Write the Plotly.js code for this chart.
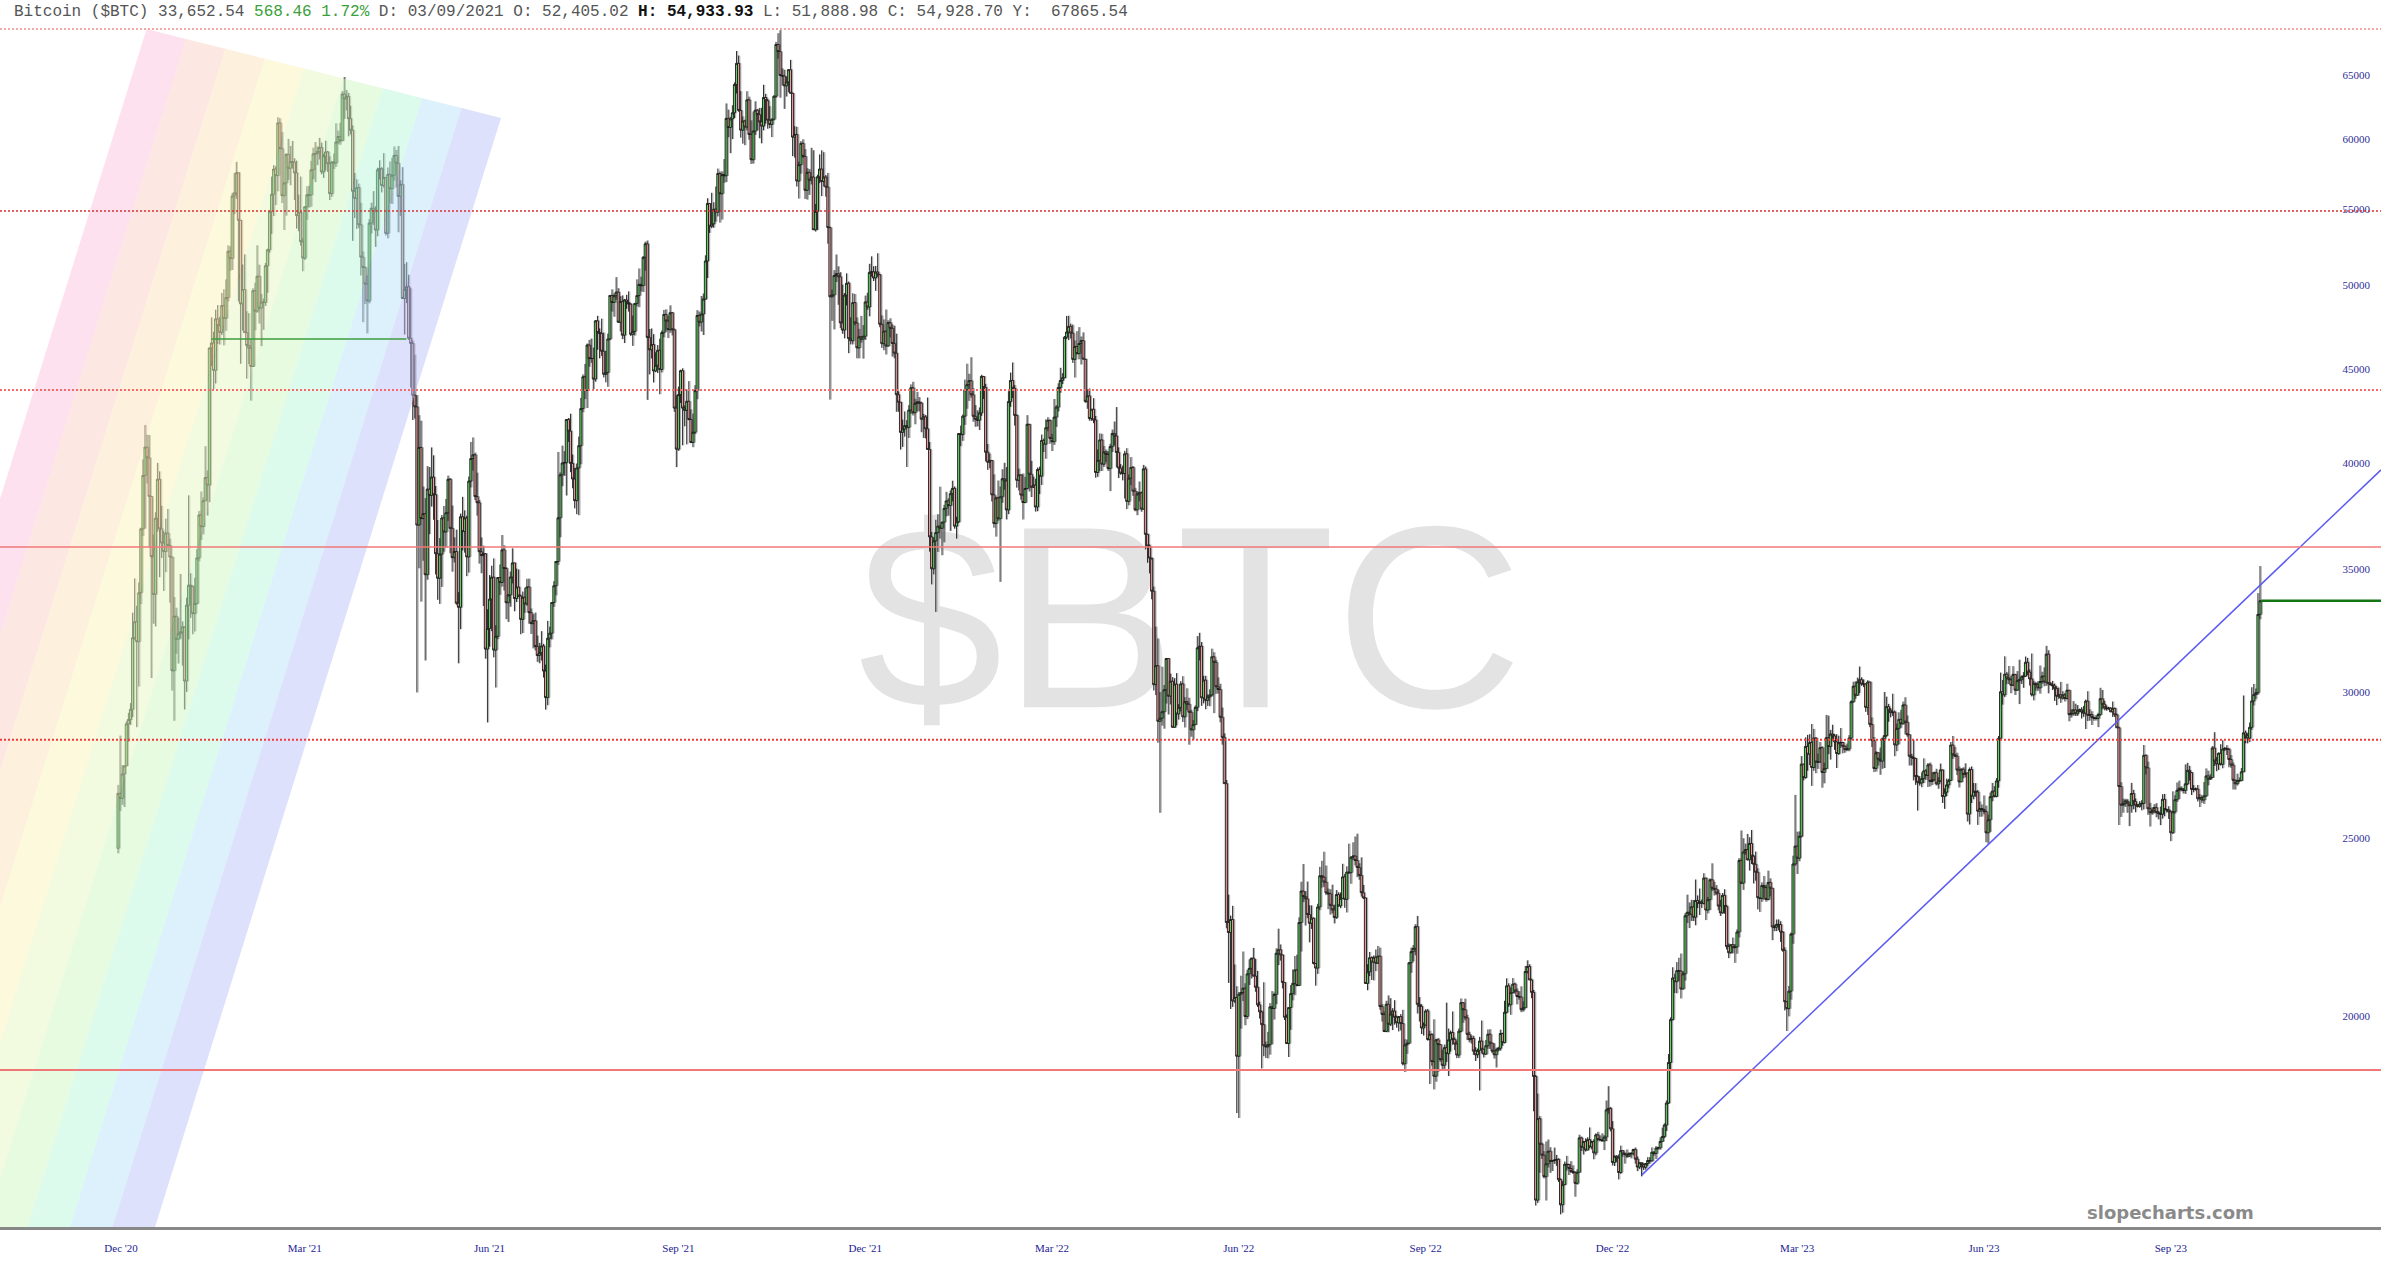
<!DOCTYPE html>
<html><head><meta charset="utf-8">
<script src="https://cdn.plot.ly/plotly-3.0.1.min.js"></script>
<style>html,body{margin:0;padding:0;background:#fff;overflow:hidden}#chart{width:2381px;height:1269px}</style>
</head><body><div id="chart"></div>
<script>
// ---------- DATA (daily BTC candles) ----------
const startDay = '2020-12-26';
const lastDay = '2023-10-24';
const firstOpen = 24678; // open of the first candle; later opens = previous close (24/7 market)
const closes = [
26437,26273,27084,27362,28841,29002,
29374,32127,32782,31971,33992,36824,39371,40797,40254,38356,35566,33923,37316,39187,36825,36178,35792,36630,36070,35548,30826,33006,32068,32290,32367,32569,30433,33467,34317,34269,33115,
33538,35510,37473,36927,38144,39266,38904,46196,46481,44919,47910,47505,47106,48717,47945,49200,52149,51679,55888,56100,57540,54207,48824,49705,47093,46340,46188,45137,
49631,48378,50538,48561,48927,48912,51206,52246,54824,56008,57805,57332,61243,59302,55907,56804,58870,57858,58346,58313,57523,54529,54738,52774,51704,55137,55974,55947,57750,58918,58918,
59095,59384,57604,58760,59057,58192,56048,58323,58245,59794,60205,59894,63503,63110,63314,61572,60684,56216,55724,56473,53906,51763,51093,50050,49004,54021,55033,54824,53555,57750,
57828,56631,57200,53333,57424,56396,57356,58803,58232,55859,56704,49150,49716,49880,46760,46456,43537,42909,37002,40782,37304,37536,34770,38705,38402,39294,38436,35697,34616,35678,37332,
36684,37575,39187,36851,35521,35796,33552,33380,37389,36702,37334,35552,39097,40218,40406,38347,38053,35787,35615,35698,31676,32506,33723,34662,31637,32187,34649,34434,35867,35040,
33572,33897,34668,35287,33747,34235,33855,32877,33798,33520,34240,33155,32702,32822,31780,31421,31533,31797,30817,29807,32110,32313,33581,34292,35350,37337,39406,39995,40008,42235,41626,
39974,39201,38152,39747,40869,42816,44555,43798,46365,45585,45593,44428,47793,47096,47047,46004,44695,44801,46717,49339,48905,49321,49546,47706,48960,46942,49058,48897,48807,46991,47167,
48847,49327,50026,49944,51753,52633,46811,46091,46391,44883,45201,46063,44963,47092,48176,47783,47268,48278,47260,42844,40694,43575,44896,42840,42717,43208,42235,41034,41564,43790,
48117,47711,48199,49112,51514,55361,53805,53967,54968,54771,57484,56041,57401,57322,61593,60892,61553,62026,64262,65993,62210,60693,61393,60931,63040,60364,58483,60622,62228,61889,61319,
61005,63227,62971,61453,61126,61528,63327,67566,66972,64995,64950,64155,64470,65467,63557,60162,60369,56943,58120,59697,58731,56289,57570,57006,57230,53569,54816,57249,57806,56908,
57230,56509,53714,49253,49369,50582,50701,50505,47672,47243,49362,50098,46737,46613,48896,47666,46203,46849,46708,46880,48936,48629,50784,50823,50429,50809,50640,47588,46444,47178,46306,
47686,47345,46458,45897,43569,43160,41558,41734,41912,41821,42736,43949,42592,43099,43177,43113,42250,42375,41744,40681,36457,35030,36276,36654,36954,36852,37138,37784,38138,37917,38483,
38743,36952,37154,41500,41441,42412,43841,44118,44338,43565,42407,42244,42197,42586,44575,43961,40538,40031,40122,38431,37075,38286,37296,38332,39214,39105,37709,43193,
44354,43924,42452,39137,39400,38419,38062,38737,41983,39437,38795,38904,37849,39666,39338,41143,40951,41801,42190,41247,41078,42358,42892,43960,44348,44500,46820,47128,47465,47062,45538,
46281,45868,46453,46622,45555,43206,43503,42287,42782,42207,39521,40127,41166,39936,40553,40424,39716,40826,41503,41374,40527,39740,39486,39470,40458,38117,39241,39773,38610,37714,
38469,38529,37750,39698,36575,36040,35501,34059,30296,31022,28936,29047,29283,30101,31305,29862,30425,28720,30314,29201,29445,30324,29098,29655,29562,29267,28627,28814,29445,31726,31792,
29799,30467,29704,29832,29906,31370,31155,30215,30112,29083,28360,26762,22487,22206,22572,20381,20471,19017,20553,20599,20710,19988,21085,21231,21502,21028,20735,20281,20105,19785,
19269,19243,19297,20231,20190,20548,21637,21732,21592,20860,19970,19323,20213,20570,20836,21190,20779,22485,23389,23231,23164,22714,22465,22609,21361,21239,22930,23843,23804,23656,23337,
23314,22978,22846,22630,23289,22961,23175,23810,23149,23954,23934,24403,24441,24305,24094,23854,23342,23191,20834,21140,21516,21400,21529,21368,21560,20240,20041,19617,20297,19796,20049,
20127,19969,19832,19986,19813,18837,19290,19329,21381,21681,21769,22371,20296,20242,19702,19773,20127,19420,19545,18891,18547,19413,19297,18937,18803,19223,19079,19412,19592,19423,
19311,19045,19623,20337,20160,19955,19546,19417,19446,19141,19052,19157,19382,19185,19067,19268,19550,19334,19139,19053,19172,19208,19567,19345,20095,20771,20285,20595,20818,20635,20495,
20485,20159,20209,21147,21282,20926,20602,18541,15880,17587,17034,16800,16353,16618,16884,16669,16688,16697,16712,16292,15787,16190,16611,16604,16522,16459,16444,16217,16444,17168,
16968,17089,16908,17130,16975,17089,16848,17233,17134,17128,17105,17184,17781,17815,17364,16648,16777,16739,16438,16896,16824,16821,16778,16837,16832,16919,16717,16552,16642,16603,16547,
16625,16688,16680,16863,16836,16951,16955,17091,17197,17446,17934,18869,19909,20976,20880,21169,21161,20688,21086,22676,22777,22720,22934,22636,23117,23032,23078,23031,23774,22840,23139,
23723,23471,23449,23331,22955,22760,23264,22940,21819,21651,21870,21788,21808,22220,24307,23623,24565,24641,24327,24829,24436,24188,23947,23198,23175,23555,23492,23147,
23646,23475,22362,22354,22435,22429,22219,21718,20363,20187,20633,22163,24197,24746,24375,25052,27424,26965,28038,27767,28175,27308,28333,27493,27494,27994,27139,27268,28348,28033,28478,
28411,28199,27790,28168,28177,28044,27925,27947,28333,29653,30235,29896,30399,30485,30318,30315,29445,30397,28823,28245,27276,27817,27591,27525,28307,28422,29473,29340,29248,29268,
28091,28680,29006,28847,29534,28904,28454,27695,27654,27621,27000,26804,26784,26930,27192,27036,27398,26833,26890,27129,26753,26851,27226,26334,26476,26719,26868,28085,27745,27702,27219,
26819,27249,27075,27119,25760,27238,26346,26508,26480,25851,25940,25903,25841,25162,25575,26327,26511,26336,26851,28327,30027,29912,30695,30548,30480,30271,30688,30086,30445,30477,
30590,30620,31156,30777,30514,29909,30346,30292,30172,30414,30620,30392,31476,30335,30295,30249,30145,29856,29913,29792,29908,29771,30084,29176,29227,29354,29210,29319,29357,29275,29230,
29675,29151,29178,29074,29042,29041,29180,29765,29561,29429,29397,29415,29282,29408,29170,28701,26664,26049,26096,26189,26124,26031,26432,26163,26047,26008,26089,26106,27727,27297,25931,
25800,25869,25969,25813,25779,25753,26240,25906,25895,25832,25162,25834,26228,26539,26608,26568,26535,26754,27211,27133,26568,26580,26579,26256,26298,26217,26352,27021,26911,26967,
27983,27530,27429,27799,27416,27947,27968,27936,27584,27392,26874,26757,26862,26861,27159,28519,28415,28328,28719,29683,29919,29993,33084,33652.54
];
const highs = [
26718,28422,27390,27370,28937,29244,
29600,33155,34608,33440,34437,36879,40180,41946,41436,41420,38346,36568,37600,40000,39577,37901,36722,37299,37755,36378,35552,33811,33360,32944,34802,32794,32557,33784,38406,34834,34288,
34638,35896,37662,38592,38310,40846,39621,46203,48003,47145,48463,48745,48047,49487,49720,50341,52533,52474,56113,57505,58330,57533,54204,51290,51948,48370,48253,46716,
49784,50127,52535,51275,49432,49147,51384,52314,54824,57258,58082,58012,61683,61597,60541,56833,58970,60031,59498,59878,58592,58421,55985,57262,53009,55137,56568,56610,58405,59374,59800,
59469,60110,59755,58913,59891,59121,58732,58371,58937,61217,60659,61253,63735,64864,63822,63595,62572,61057,57521,57064,56757,55410,52131,51167,50591,54288,55416,56227,55173,57900,
58448,57942,58963,57214,57919,58360,58625,59464,59210,59500,57000,57939,51330,51438,50639,49783,46623,45800,43546,42462,42172,38829,38271,39835,39791,40782,40379,38856,37234,36400,37469,
37896,38231,39367,39242,37917,36436,36790,34017,37537,38334,37690,37439,39322,41064,41295,40516,39513,38187,36433,36058,35721,33298,34753,35164,35487,32637,34656,35219,36542,36074,
35100,33939,34909,35937,35284,35038,35000,33917,34042,34209,34593,34600,33330,33093,33159,32218,31924,32395,31885,31063,32816,32576,33581,34490,35364,40551,39526,40873,40593,42236,42317,
42541,40419,39750,39968,41341,43392,44689,45282,46456,46665,46743,46218,47829,48094,47339,47922,47097,46032,47033,49342,49717,49469,50482,49787,49288,49342,49122,49379,49589,48848,48110,
48861,50343,51033,50517,51840,52781,52853,47303,47337,47002,45950,46361,46736,47218,48450,48487,48091,48730,48331,47328,43540,44010,44954,45033,42987,43866,44313,42775,42545,44092,
48437,48354,49300,49457,51883,55727,55400,56113,55450,56550,57839,57627,57639,58532,62757,62275,61720,62614,64434,67016,66639,63732,61748,61490,63729,63293,61442,62128,62927,62330,62406,
62419,64242,63516,63123,62541,61590,63400,67789,68530,68790,65579,65461,64915,65495,66281,63617,60996,60949,58351,59859,60004,59266,57875,57803,59367,59183,55329,57393,58872,59176,
59041,57376,57526,53779,49699,50929,51934,51171,50797,50015,49485,50724,50205,48004,49473,49425,47995,47313,48089,47537,49329,49506,51332,51814,51176,51196,52016,50679,48119,47879,48472,
47827,47945,47570,47506,47031,43749,43153,42228,42663,42199,43001,44135,44278,43346,43724,43436,43179,42534,42478,43413,41060,36688,36433,37247,37510,38825,37148,37952,38576,38266,38647,
39115,38834,37387,41527,41913,42500,44401,45293,44727,45661,43921,43000,42722,42876,44667,44543,44164,40959,40467,40135,39431,38346,39126,38835,39683,40005,39788,43760,
44793,45365,44102,42506,39713,39430,39474,39305,42465,41939,40102,39317,39214,39767,39810,41446,41238,42243,42355,42226,41477,43333,43000,44198,45061,44756,46894,48087,48097,47626,47564,
46634,47179,47417,46865,47106,45508,43860,43906,42786,43378,42420,40679,41505,41482,40856,40677,40590,40968,41705,42127,42898,40786,39938,39861,40606,40742,39429,40292,39844,38766,
38603,39076,38592,39899,39820,36600,36113,35436,34257,32578,32098,30017,30983,30284,31308,31286,30718,30581,30542,30735,29565,30426,30617,29826,30157,29803,29355,28978,29516,32195,32329,
31957,30633,30633,29930,30117,31693,31551,31253,30573,30330,29437,28502,26883,23284,22681,22962,21334,20760,20610,21036,21684,20839,21192,21472,21520,21783,21479,21164,20364,20141,
20865,19371,19607,20326,20635,20595,21771,22314,21877,21599,20856,20043,20223,20792,21200,21561,21600,22633,23666,24196,23388,23671,22980,22974,22631,21362,23021,24110,24294,24572,24150,
23464,23442,23578,22993,23420,23355,23348,24203,23898,24127,24822,24434,24864,25047,25135,24219,24400,23570,23203,21341,21671,21552,21579,21739,21836,21788,20308,20117,20386,20523,20453,
20198,20401,20011,19999,20050,20156,19427,19417,21400,21791,21860,22439,22673,20480,20294,19842,20172,20180,19636,19575,19918,19439,19461,19311,19174,19298,20338,19688,19636,20115,
19471,19395,19690,20445,20343,20440,20033,19610,19520,19511,19232,19201,19485,19888,19196,19408,19666,19672,19339,19327,19225,19244,19662,19587,20386,20968,20839,20728,20975,20855,20704,
20632,20757,20371,21295,21446,21344,20959,20664,18575,18148,17645,17066,16886,17091,17134,16968,16701,16960,16805,16736,16320,16261,16667,16785,16620,16675,16588,16461,16507,17236,
17197,17089,17158,17181,17394,17107,17140,17267,17300,17217,17266,17227,17991,18318,17847,17531,16796,16800,16815,17001,16900,16859,16920,16859,16864,16937,16963,16772,16651,16643,16630,
16631,16759,16760,16965,16884,16991,16975,17177,17389,17484,17991,19070,19964,21260,21090,21398,21515,21630,21155,22752,23285,23059,23135,23129,23731,23262,23465,23144,23919,23779,23218,
23765,24218,23665,23565,23433,23133,23334,23442,22990,21904,21875,22067,21887,22293,24376,25235,24991,24825,25125,25022,25250,24478,24577,24067,23205,23647,23839,23577,
23997,23767,23475,22420,22572,22574,22524,22249,21799,20370,20770,22208,24450,26386,25197,25208,27699,27434,28357,28447,28470,28838,28661,28367,27785,28192,28043,27474,29166,29141,28626,
28810,28479,28470,28416,28694,28200,28079,28139,28439,29704,30406,30421,30564,30991,30574,30490,30350,30464,30397,29077,28371,27871,27821,28000,28353,30018,29842,29574,29419,29953,
29331,28854,29262,29353,29659,29821,29148,28441,27778,28270,27630,27049,27009,27142,27621,27257,27462,27478,27155,27170,27262,26981,27442,27216,26602,26930,26923,28194,28408,28017,27818,
27338,27283,27316,27450,27130,27309,27345,26782,26776,26549,26165,26069,26366,26034,25738,26465,26786,26677,26949,28409,30756,30474,31389,30782,31012,30634,31006,30690,30816,31256,
30650,30776,31381,31326,30882,31500,30440,30380,30427,31029,30790,30959,31804,31630,30390,30437,30336,30233,30184,30400,30046,29983,30330,30084,29375,29675,29580,29530,29400,29448,29500,
29732,30047,29375,29302,29102,29160,29244,30176,30093,29688,29517,29465,29448,29660,29439,29221,28745,26808,26260,26261,26254,26131,26786,26554,26269,26087,26182,26213,28089,27760,27508,
26126,25982,26082,26114,25859,26003,26409,26418,25939,26014,25880,26504,26376,26800,26864,26672,26615,27414,27468,27364,27152,26712,26630,26717,26412,26379,26812,27276,27198,27079,
28053,28542,27664,27826,28114,28252,28019,28081,27989,27735,27476,26900,27096,26967,27289,29886,28603,28500,28891,30196,30323,30150,33977,35150
];
const lows = [
24522,25856,26057,25987,27361,28202,
28803,29091,32052,28722,30221,33514,36491,36838,38980,35984,30549,32697,32584,36700,34659,35507,34069,34883,36069,33570,30071,28953,31493,31106,32087,31030,29367,30023,32064,32940,32270,
32384,33489,35360,36317,36570,38138,37446,38076,45166,43881,44187,46424,46392,46950,46347,47201,48968,50888,50937,54626,55673,48967,45290,47213,47093,44454,45269,43241,
45116,47229,48274,47625,46300,47257,48700,49506,52059,53290,54502,55254,56217,59302,55393,53555,54528,57024,56643,57851,55604,53650,53470,52514,50856,51579,54242,55071,55139,57069,56870,
58089,58506,57428,57168,57694,57593,55604,55830,57807,57965,59627,59589,59860,61554,62208,60223,60362,52829,54368,53621,53695,50583,47714,48805,47045,48852,53319,53887,52432,53129,
57052,56141,56478,53191,52996,55382,55321,56975,56482,53400,54500,49150,46980,48868,46665,43963,42207,42294,30000,35050,33616,35383,31227,34551,36581,37868,37247,34779,33693,33520,34241,
35787,35967,37193,35717,34900,35304,33480,31115,32475,35847,35744,34707,34864,38787,39609,38176,37439,35256,34834,33433,31295,28893,31772,32396,31350,30185,32071,33902,34252,34086,
32883,32770,33402,34396,33213,33599,33816,32270,32319,33151,33446,32697,32283,31704,31621,31174,31118,31223,30563,29360,29524,31745,32057,33401,33881,35205,36441,38848,39352,38397,41064,
39540,38746,37782,37508,37458,39932,42618,43331,42848,45118,45342,43861,44282,46090,45598,45741,44521,44248,43997,46650,48345,48038,49074,47680,47163,46707,46481,48519,48349,46889,46315,
46919,48669,48616,49588,49547,50888,43285,44688,45591,44237,44815,44766,43591,44797,46813,47141,46771,47085,46928,42644,39787,40605,43117,40891,41877,40936,42190,41000,40794,41466,
43321,47456,47160,46950,49073,50429,53358,53675,53705,54120,54474,54052,54260,56818,56868,60156,58964,60013,61623,63544,62105,60122,59678,59557,60678,59970,58173,58206,60329,60675,60074,
59695,60673,61184,60799,60845,60163,61432,63200,66383,63208,64180,62333,63303,63647,63548,58746,58638,56550,55705,57469,58618,55679,55632,55964,56700,53569,53450,53548,56792,55875,
56553,55837,52639,43300,47792,47281,50175,48765,47358,47024,46752,48725,45894,46402,46400,47529,45598,45598,46502,45579,46667,48458,48065,50514,50236,49623,50499,47414,46201,46060,45819,
46288,46806,45697,45602,42646,42646,40672,40810,41338,39796,41267,42528,42447,41982,42669,42663,41566,41268,41242,40672,35791,34349,34785,33184,35779,36375,35629,36211,37406,37437,36733,
38113,36832,36375,37093,40843,41117,41950,42807,43232,43402,42114,41852,41867,41681,42427,43334,40073,39651,39733,38112,36881,36470,37201,34459,38048,38675,37262,37510,
42909,43385,41914,38777,38636,38197,37260,38026,38695,38592,38324,38768,37630,37649,38463,38911,40549,40206,41621,40969,40597,40913,41844,42662,43677,44152,44473,46712,46650,46746,45339,
44512,45820,45544,45248,45537,43121,42806,42167,42166,42039,39262,39308,39597,39594,39795,40038,39595,38610,40546,40882,39776,39247,39411,39134,38252,37749,37931,38898,38380,37647,
37462,38121,37626,37721,35889,35294,34826,33716,30075,29902,28170,25800,28778,28666,29586,29183,29553,28700,28694,28783,28997,29296,28912,28712,29346,28099,28380,28277,28804,29307,31230,
29501,29594,29375,29500,29485,29850,29233,29945,29963,28900,28099,26760,22323,20847,20178,20232,20333,17709,17601,19686,20378,19770,19922,20792,20964,21016,20618,20229,19937,18729,
19019,18976,18966,19055,19304,19911,20296,21318,21438,20705,19900,19308,18999,19656,20397,20527,20760,20781,21683,23066,22401,22608,21934,22306,21336,20776,21084,22837,23491,23515,23272,
22865,22710,22744,22461,22589,22937,22893,23165,22904,22771,23900,23604,24319,24153,23801,23722,23229,23158,20819,20656,21028,20923,20913,21158,21349,20158,19862,19601,19599,19597,19750,
19652,19786,19710,19618,19647,18800,18644,19074,19321,21113,21418,21581,20062,19862,19554,19517,19759,19393,18367,18793,18243,18420,18652,18886,18680,18720,18881,18553,19130,19291,
19162,18972,18974,19596,19829,19890,19406,19350,19320,19050,18904,18972,18219,19081,18987,19062,19195,19192,19092,18962,18751,19133,19152,19267,19327,20064,20233,20030,20573,20568,20295,
20412,20097,20112,20207,21096,20922,20453,17749,15772,15826,16434,16721,16317,15872,16541,16433,16470,16617,16575,16246,15599,15632,16181,16475,16387,16428,16408,15948,16190,16439,
16888,16813,16877,16906,16946,16921,16714,16797,17095,17092,17094,16908,17097,17693,17309,16584,16573,16658,16297,16413,16764,16622,16739,16760,16733,16792,16623,16467,16508,16360,16490,
16499,16573,16623,16667,16786,16720,16914,16916,17087,17164,17315,17913,18716,19891,20585,20578,20895,20445,20686,20908,22473,22330,22531,22527,22408,22894,22698,22901,23000,22555,22744,
22838,23390,23261,23273,22835,22670,22739,22738,21738,21505,21626,21633,21377,21625,22069,23596,23424,24478,24302,23998,24197,23614,23696,22860,22787,23079,23132,23080,
23118,23238,21994,22243,22245,22268,21947,21678,20141,19628,19992,20414,21895,24144,23896,24280,25015,26871,26926,27198,27388,26686,27196,27112,27258,27479,26624,26771,27265,27768,27579,
28246,27917,27290,27742,27990,27797,27819,27873,27870,28270,29618,29762,29869,29974,30250,30200,29280,29163,28722,28016,27152,27169,27373,27060,27263,27289,28380,28920,29078,29130,
27696,27872,28115,28703,28818,28464,28383,27374,27376,26869,26720,25872,26694,26639,26779,26883,26649,26667,26713,26861,26700,26589,26820,26119,25928,26347,26604,26860,27603,27668,27050,
26633,26815,26941,26969,25520,25425,26120,26241,26323,25412,25671,25678,25754,24866,24820,25191,26177,26301,26303,26624,28312,29545,29826,30315,30319,29970,30239,29903,30064,29566,
30322,30174,30602,30659,30259,29850,29702,30070,30050,29954,30328,30233,30254,29966,30262,30089,29685,29525,29762,29612,29732,29661,29741,28934,29065,29136,29125,29132,29264,29039,29100,
28657,28946,28959,28801,28957,28963,28724,29139,29379,29335,29320,29357,29265,29092,29088,28701,25409,25668,25802,25990,25801,25373,25804,25914,25818,25974,25966,25880,25912,27069,25733,
25362,25734,25779,25657,25589,25404,25614,25688,25812,25604,24901,25133,25770,26152,26250,26500,26432,26421,26709,26863,26383,26472,26525,26170,25988,26122,26089,26327,26705,26883,
26966,27360,27179,27224,27373,27281,27874,27738,27316,27300,26566,26562,26696,26822,26848,27156,28148,28146,28195,28625,29516,29758,29915,32880
];

// horizontal levels drawn on the chart
const levelPrices = [68886, 54840, 43820, 36000, 28270, 18690];
const levelStyles = [
  {color:'#f08a8a', width:1.5, dash:'2px,2px'},
  {color:'#d83030', width:1.5, dash:'2px,2px'},
  {color:'#f46a6a', width:2,   dash:'2px,2px'},
  {color:'#f07878', width:1.6, dash:'solid'},
  {color:'#f03a3a', width:2,   dash:'2px,2px'},
  {color:'#f07878', width:2,   dash:'solid'}
];
const lastPrice = 33652.54;
const trendDates = ['2022-12-30 05:00', '2023-12-21 07:00'];
const trendPrices = [16390, 39650];
const flatLineDates = ['2021-02-09', '2021-05-14'];
const flatLinePrice = 46720;

const yTickVals = [20000,25000,30000,35000,40000,45000,50000,55000,60000,65000];
const xTickVals = ['2020-12-27 11:00','2021-03-26','2021-06-23','2021-09-22','2021-12-21','2022-03-21','2022-06-19','2022-09-17','2022-12-16','2023-03-15','2023-06-13','2023-09-11'];
const xTickText = ["Dec '20","Mar '21","Jun '21","Sep '21","Dec '21","Mar '22","Jun '22","Sep '22","Dec '22","Mar '23","Jun '23","Sep '23"];

const headerText = 'Bitcoin ($BTC) 33,652.54 <span style="color:#3aa03a">568.46 1.72%</span> D: 03/09/2021 O: 52,405.02 <span style="color:#111"><b>H: 54,933.93</b></span> L: 51,888.98 C: 54,928.70 Y:\u00a0\u00a067865.54';

// ---------- BUILD ----------
const DAY = 864e5;
const t0 = Date.parse(startDay + 'T00:00:00Z');
const expected = Math.round((Date.parse(lastDay + 'T00:00:00Z') - t0) / DAY) + 1;
if (closes.length !== expected || highs.length !== expected || lows.length !== expected) {
  throw new Error('length mismatch: expected ' + expected + ' closes ' + closes.length + ' highs ' + highs.length + ' lows ' + lows.length);
}
const dates = closes.map((_, i) => new Date(t0 + i * DAY).toISOString().slice(0, 10));
const opens = [firstOpen].concat(closes.slice(0, -1));

const xRange = ['2020-10-30 03:36', '2023-12-21 07:00'];
const xRangeShadow = ['2020-10-29 13:36', '2023-12-20 17:00'];
const yRange = [Math.log10(15354), Math.log10(69850)];
const yPaper = v => (Math.log10(v) - yRange[0]) / (yRange[1] - yRange[0]);

const shadow = {
  type:'candlestick', x:dates, open:opens, high:highs, low:lows, close:closes,
  xaxis:'x', yaxis:'y', hoverinfo:'skip', showlegend:false,
  increasing:{line:{color:'#ababab', width:1}, fillcolor:'#ababab'},
  decreasing:{line:{color:'#ababab', width:1}, fillcolor:'#ababab'}
};
const candles = {
  type:'candlestick', x:dates, open:opens, high:highs, low:lows, close:closes,
  xaxis:'x2', yaxis:'y', hoverinfo:'skip', showlegend:false,
  increasing:{line:{color:'#1a1a1a', width:0.9}, fillcolor:'#62d062'},
  decreasing:{line:{color:'#1a1a1a', width:0.9}, fillcolor:'#ec9c9c'}
};
const trend = {
  type:'scatter', mode:'lines', x:trendDates, y:trendPrices, xaxis:'x2', yaxis:'y',
  line:{color:'#5c5cf2', width:1.5}, hoverinfo:'skip', showlegend:false
};

const shapes = [];
// big watermark (behind the candles)
shapes.push({type:'rect', xref:'paper', yref:'paper', x0:0.3, x1:0.7, y0:0.32, y1:0.73, layer:'below',
  line:{width:0}, fillcolor:'rgba(0,0,0,0)',
  label:{text:'$BTC', textposition:'middle center', font:{family:'Liberation Sans, Arial, sans-serif', size:260, color:'#e3e3e3'}}});

// rainbow fan (semi-transparent overlay)
const rainbowColors = ['#fbc3df','#fbcfc7','#fbe3bd','#fbf3b9','#e5f7bf','#cdf7c1','#b9f7d9','#b9e3f7','#bbc3f7'];
const rbA = [146.6/2381, (1227-29)/1209], rbB = [501/2381, (1227-118)/1209], rbSlope = 0.1584;
const rbPt = i => [rbA[0] + (rbB[0]-rbA[0]) * i / 9, rbA[1] + (rbB[1]-rbA[1]) * i / 9];
for (let i = 0; i < 9; i++) {
  const p = rbPt(i), q = rbPt(i + 1);
  const pb = p[0] - rbSlope * p[1], qb = q[0] - rbSlope * q[1];
  shapes.push({type:'path', xref:'paper', yref:'paper', layer:'above', opacity:0.5,
    fillcolor:rainbowColors[i], line:{width:0},
    path:`M${p[0]},${p[1]} L${q[0]},${q[1]} L${qb},0 L${pb},0 Z`});
}
// horizontal levels
levelPrices.forEach((v, i) => {
  const s = levelStyles[i];
  shapes.push({type:'line', xref:'paper', yref:'paper', x0:0, x1:1, y0:yPaper(v), y1:yPaper(v), layer:'above',
    line:{color:s.color, width:s.width, dash:s.dash}});
});
// short green level inside the rainbow
shapes.push({type:'line', xref:'x2', yref:'paper', x0:flatLineDates[0], x1:flatLineDates[1],
  y0:yPaper(flatLinePrice), y1:yPaper(flatLinePrice), layer:'above', line:{color:'#3c9c3c', width:1.5}});
// last price line
shapes.push({type:'line', xref:'x2', yref:'paper', x0:lastDay + ' 12:00', x1:xRange[1],
  y0:yPaper(lastPrice), y1:yPaper(lastPrice), layer:'above', line:{color:'#137513', width:2.5}});

const layout = {
  width:2381, height:1269,
  margin:{l:0, r:0, t:18, b:42, pad:0},
  paper_bgcolor:'#ffffff', plot_bgcolor:'#ffffff',
  showlegend:false, hovermode:false, dragmode:false,
  boxgap:0, boxgroupgap:0,
  font:{family:'Liberation Serif, Times New Roman, serif', size:11, color:'#22228c'},
  xaxis:{type:'date', range:xRangeShadow, visible:false, rangeslider:{visible:false}, fixedrange:true},
  xaxis2:{type:'date', overlaying:'x', anchor:'y', side:'bottom', range:xRange, rangeslider:{visible:false},
    tickmode:'array', tickvals:xTickVals, ticktext:xTickText, ticks:'', showgrid:false, zeroline:false,
    showline:true, linecolor:'#888888', linewidth:3, ticklabelstandoff:9,
    tickfont:{family:'Liberation Serif, Times New Roman, serif', size:11, color:'#1c1c94'}, fixedrange:true},
  yaxis:{type:'log', range:yRange, side:'right', ticklabelposition:'inside', tickmode:'array',
    tickvals:yTickVals, ticktext:yTickVals.map(String), ticks:'', showgrid:false, zeroline:false, showline:false,
    ticklabelstandoff:8,
    tickfont:{family:'Liberation Serif, Times New Roman, serif', size:11, color:'#2e2e98'}, fixedrange:true},
  shapes:shapes,
  annotations:[
    {xref:'paper', yref:'paper', x:11.5/2381, y:(1227-12)/1209, xanchor:'left', yanchor:'middle', showarrow:false,
      text:headerText, font:{family:'Liberation Mono, DejaVu Sans Mono, monospace', size:16, color:'#555555'}},
    {xref:'paper', yref:'paper', x:2170/2381, y:(1227-1212)/1209, xanchor:'center', yanchor:'middle', showarrow:false,
      text:'<b>slopecharts.com</b>', font:{family:'DejaVu Sans, Verdana, sans-serif', size:18, color:'#8a8a8a'}}
  ]
};

Plotly.newPlot('chart', [shadow, candles, trend], layout, {staticPlot:true, displayModeBar:false});
</script></body></html>
